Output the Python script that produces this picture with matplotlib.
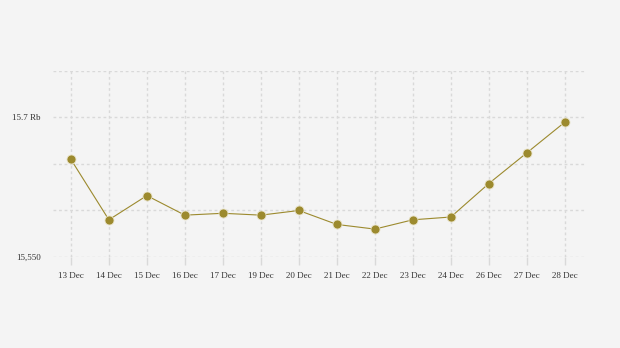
import matplotlib.pyplot as plt
from matplotlib.ticker import FixedLocator

# Data
dates = ['13 Dec', '14 Dec', '15 Dec', '16 Dec', '17 Dec', '19 Dec', '20 Dec',
         '21 Dec', '22 Dec', '23 Dec', '24 Dec', '26 Dec', '27 Dec', '28 Dec']
values = [15655, 15590, 15616, 15595, 15597, 15595, 15600,
          15585, 15580, 15590, 15593, 15629, 15662, 15695]

grid_levels = [15550, 15600, 15650, 15700, 15750]
label_levels = [15550, 15700]
label_texts = ['15,550', '15.7 Rb']

bg = '#f4f4f4'
gold = '#9c8a2e'
grid_col = '#d9d9d9'

fig = plt.figure(figsize=(6.2, 3.48), dpi=100, facecolor=bg)
ax = fig.add_axes([0.0855, 0.2615, 0.858, 0.5345], facecolor=bg)

x = list(range(len(dates)))
ax.plot(x, values, color=gold, linewidth=0.8, marker='o', markersize=6.5,
        markerfacecolor=gold, markeredgecolor='#e8e2c8', markeredgewidth=0.6,
        zorder=3)

ax.set_xlim(-0.47, len(dates) - 0.47)
ax.set_ylim(15550, 15750)

# horizontal dashed grid
for lv in grid_levels:
    ax.axhline(lv, color=grid_col, linewidth=1, linestyle=(0, (2, 2)), zorder=1)
# vertical dashed grid
for xi in x:
    ax.axvline(xi, color=grid_col, linewidth=1, linestyle=(0, (2, 2)), zorder=1)

ax.set_xticks(x)
ax.set_xticklabels(dates)
ax.yaxis.set_major_locator(FixedLocator(label_levels))
ax.set_yticklabels(label_texts)

for s in ax.spines.values():
    s.set_visible(False)

ax.tick_params(axis='x', length=6, color=grid_col, width=1, pad=5,
               labelsize=6.5, labelcolor='#333333')
ax.tick_params(axis='y', length=0, pad=9, labelsize=6.5, labelcolor='#333333')
for lab in ax.get_xticklabels() + ax.get_yticklabels():
    lab.set_fontfamily('Liberation Serif')

fig.savefig('out.png', dpi=100, facecolor=bg)
